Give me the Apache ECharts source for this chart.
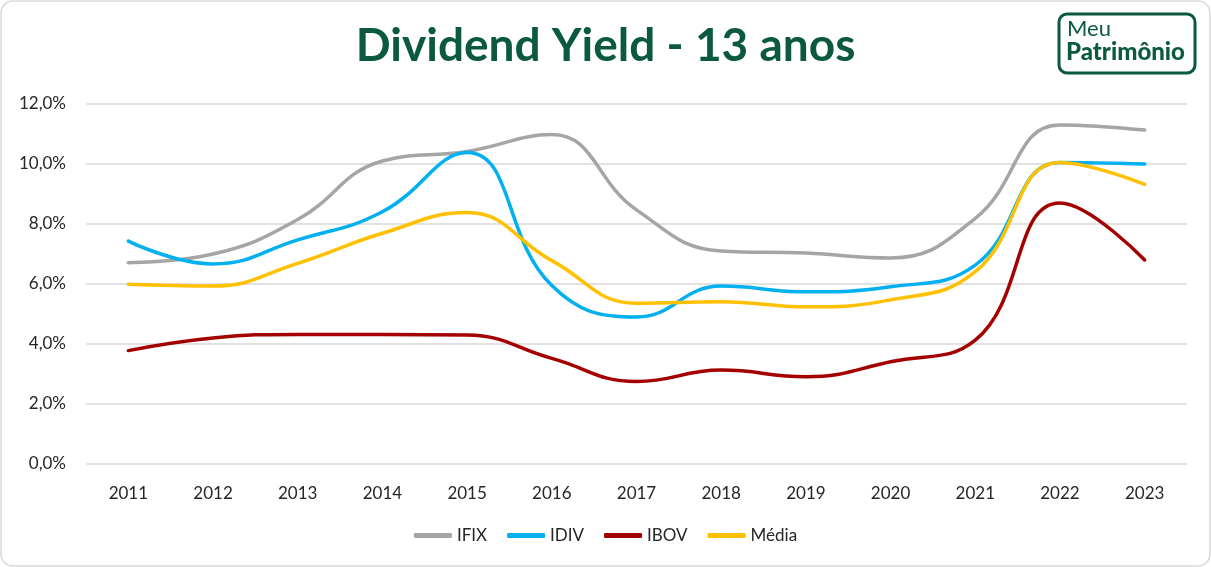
<!DOCTYPE html>
<html><head><meta charset="utf-8">
<script src="https://cdn.jsdelivr.net/npm/echarts@6/dist/echarts.min.js"></script>
<style>html,body{margin:0;padding:0;background:#fff}#c{width:1211px;height:567px}</style>
</head><body><div id="c"></div>
<script>
const years = ['2011','2012','2013','2014','2015','2016','2017','2018','2019','2020','2021','2022','2023'];
const ifix  = [6.71, 7.00, 8.15, 10.10, 10.42, 10.98, 8.47, 7.10, 7.03, 6.87, 8.19, 11.30, 11.13];
const idiv  = [7.43, 6.67, 7.47, 8.41, 10.38, 5.95, 4.90, 5.93, 5.74, 5.91, 6.63, 10.05, 10.00];
const ibov  = [3.78, 4.20, 4.32, 4.32, 4.30, 3.52, 2.75, 3.13, 2.91, 3.41, 4.13, 8.70, 6.80];
const media = [5.99, 5.93, 6.69, 7.69, 8.38, 6.78, 5.36, 5.41, 5.24, 5.47, 6.41, 10.05, 9.32];
const seriesNames = ['IFIX','IDIV','IBOV','Média'];
const colors = ['#A5A5A5','#00B0F0','#A50000','#FFC000'];
const yTicks = {min:0, max:12, interval:2};

const chart = echarts.init(document.getElementById('c'), null, {renderer:'canvas'});
const font = 'Lato, "Open Sans", sans-serif';
const mk = (name, data, color) => ({
  name, type:'line', data, smooth:0.45, symbol:'none', showSymbol:false,
  lineStyle:{color, width:3.5, cap:'round', join:'round'}, itemStyle:{color}
});
chart.setOption({
  animation:false,
  color: colors,
  title:{text:'Dividend Yield - 13 anos', left:'center', top:18,
    textStyle:{color:'#0B5A3E', fontSize:46, fontWeight:'bold', fontFamily:font}},
  grid:{left:86, right:24, top:104, bottom:103},
  legend:{bottom:18, left:'center', icon:'roundRect', itemWidth:38, itemHeight:5, itemGap:20,
    textStyle:{fontSize:17, color:'#262626', fontFamily:font},
    data: seriesNames},
  xAxis:{type:'category', data:years, boundaryGap:true,
    axisLine:{show:false}, axisTick:{show:false},
    axisLabel:{fontSize:17, color:'#262626', margin:21, fontFamily:font}},
  yAxis:{type:'value', min:yTicks.min, max:yTicks.max, interval:yTicks.interval,
    axisLine:{show:false}, axisTick:{show:false},
    splitLine:{lineStyle:{color:'#D9D9D9', width:1.5}},
    axisLabel:{fontSize:17, color:'#262626', margin:20, fontFamily:font,
      formatter:v=>v.toFixed(1).replace('.',',')+'%'}},
  graphic:[
    {type:'rect', shape:{x:1, y:1, width:1209, height:565, r:12}, style:{fill:'none', stroke:'#D9D9D9', lineWidth:1.5}, z:-1},
    {type:'rect', shape:{x:1059, y:14, width:136, height:59, r:8}, style:{fill:'#fff', stroke:'#0B5A3E', lineWidth:3}},
    {type:'text', x:1067, y:18, style:{text:'Meu', fill:'#0B5A3E', font:'22px Lato, sans-serif'}},
    {type:'text', x:1066, y:40, style:{text:'Patrimônio', fill:'#0B5A3E', font:'900 24px Lato, sans-serif'}}
  ],
  series:[mk(seriesNames[0], ifix, colors[0]), mk(seriesNames[1], idiv, colors[1]), mk(seriesNames[2], ibov, colors[2]), mk(seriesNames[3], media, colors[3])]
});
</script></body></html>
